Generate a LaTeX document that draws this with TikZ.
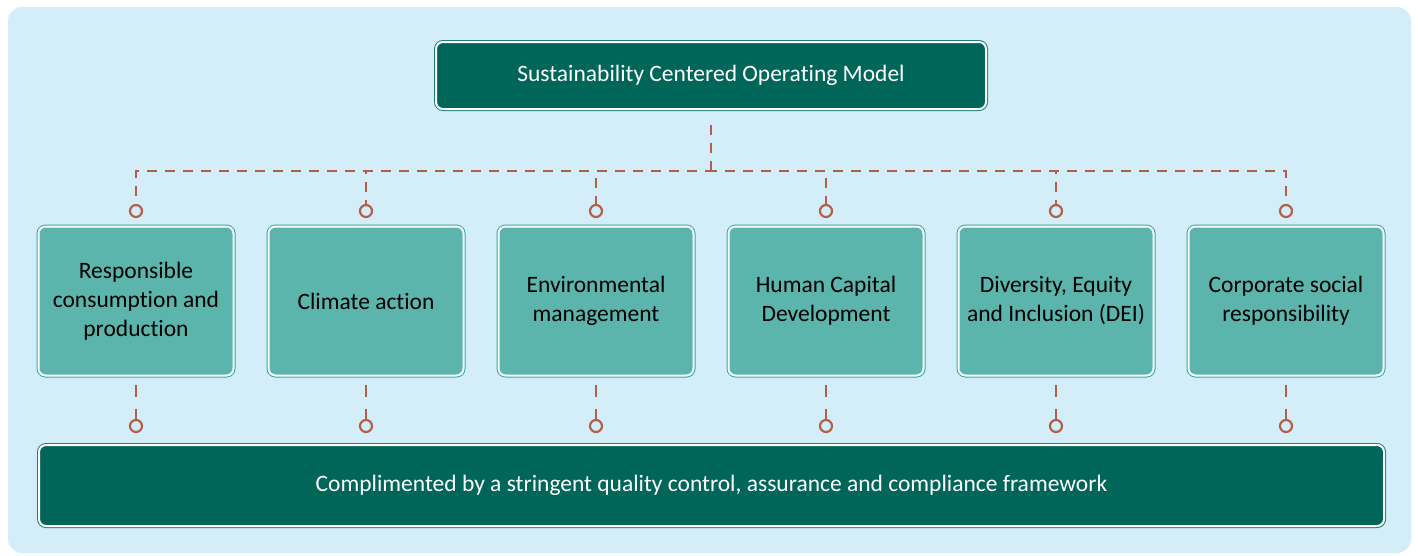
\documentclass[tikz,border=0pt]{standalone}
\usepackage{fontspec}
\setmainfont{Carlito}[Ligatures=NoCommon]
\definecolor{bgblue}{HTML}{D4EEF9}
\definecolor{darkgreen}{HTML}{00665A}
\definecolor{midfill}{HTML}{5BB5AC}
\definecolor{midborder}{HTML}{2EABA6}
\definecolor{darkborder}{HTML}{1E7F78}
\definecolor{rust}{HTML}{B2604A}
\tikzset{
  framed/.style={rounded corners=7pt, line width=2pt, draw=white,
     preaction={draw=#1, line width=4pt}},
  topbox/.style={framed=darkborder, fill=darkgreen, text=white,
     minimum width=550pt, minimum height=67pt, inner sep=0pt,
     font=\fontsize{23.5}{29}\selectfont},
  midbox/.style={framed=midborder, fill=midfill, text=black,
     minimum width=195pt, minimum height=149pt, align=center,
     inner sep=0pt, font=\fontsize{23.5}{29}\selectfont},
  botbox/.style={framed=darkborder, fill=darkgreen, text=white,
     minimum width=1345pt, minimum height=81pt, inner sep=0pt,
     font=\fontsize{23.5}{29}\selectfont},
  dashline/.style={draw=rust, line width=2.6pt, dash pattern=on 10pt off 8pt},
  knob/.style={circle, draw=rust, line width=2.2pt, fill=bgblue, minimum size=12pt, inner sep=0pt},
}
\begin{document}
\begin{tikzpicture}[x=1pt,y=-1pt]
\useasboundingbox (0,0) rectangle (1418,555);
\fill[bgblue, rounded corners=14pt] (8,7) rectangle (1411,553);

\node[topbox] (top) at (711,75.5) {Sustainability Centered Operating Model};
\node[botbox] (bot) at (711.5,485.5) {Complimented by a stringent quality control, assurance and compliance framework};

\foreach \i/\x/\t in {1/136/{Responsible\\consumption and\\production},
                       2/366/{Climate action},
                       3/596/{Environmental\\management},
                       4/826/{Human Capital\\Development},
                       5/1056/{Diversity, Equity\\and Inclusion (DEI)},
                       6/1286/{Corporate social\\responsibility}} {
  \node[midbox] (m\i) at (\x,301) {\t};
  \node[knob] (kt\i) at (\x,211) {};
  \node[knob] (kb\i) at (\x,426) {};
}

\coordinate (hub) at (711,171);
\coordinate (topstart) at (711,125);
\draw[dashline] (topstart) -- (hub);
\foreach \i in {1,...,6} {
  \draw[dashline, dash phase=4pt] (hub) -| (kt\i.north);
  \draw[dashline, dash pattern=on 12pt off 12pt] ([yshift=-8pt]m\i.south) -- (kb\i.north);
}
\end{tikzpicture}
\end{document}
